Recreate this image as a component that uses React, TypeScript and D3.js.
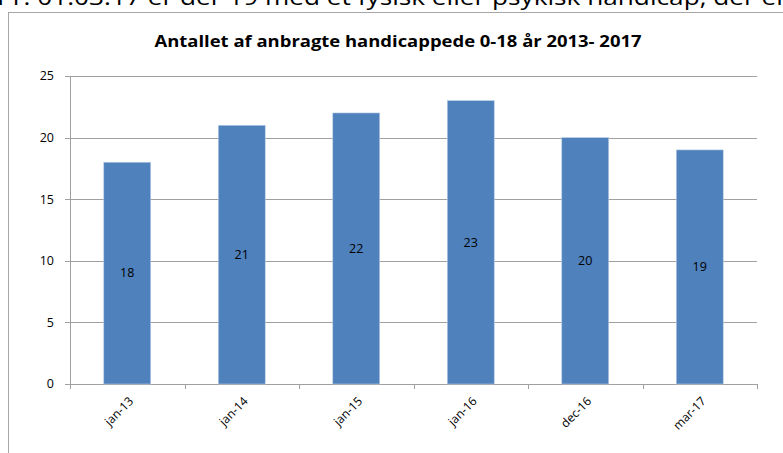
import * as d3 from 'd3';

const categories = ['jan-13', 'jan-14', 'jan-15', 'jan-16', 'dec-16', 'mar-17'];
const values = [18, 21, 22, 23, 20, 19];
const yTicks = [0, 5, 10, 15, 20, 25];

const W = 783;
const H = 453;
const plot = { left: 70, right: 757, top: 76, bottom: 384 };
const font = "'Open Sans', 'Noto Sans', sans-serif";

const App = () => {
  const x = d3
    .scaleBand()
    .domain(categories)
    .range([plot.left, plot.right])
    .paddingInner(0.59)
    .paddingOuter(0.295);

  // outer band used for tick marks between categories
  const xCat = d3.scaleBand().domain(categories).range([plot.left, plot.right]);

  const y = d3.scaleLinear().domain([0, 25]).range([plot.bottom, plot.top]);

  return (
    <svg
      width={W}
      height={H}
      style={{ position: 'absolute', left: 0, top: 0, background: '#fff' }}
    >
      {/* text from the page above the chart, cut off */}
      <text x={-3} y={5} fontFamily={font} fontSize={21} fill="#000" textLength={790} lengthAdjust="spacingAndGlyphs">
        Pr. 01.03.17 er der 19 med et fysisk eller psykisk handicap, der er
      </text>
      <rect x={8.5} y={12.5} width={W} height={H} fill="#fff" stroke="#a6a6a6" strokeWidth={1} />

      <text
        x={398}
        y={47}
        textAnchor="middle"
        fontFamily={font}
        fontWeight="bold"
        fontSize={16}
        textLength={487}
        lengthAdjust="spacingAndGlyphs"
        fill="#000"
      >
        Antallet af anbragte handicappede 0-18 år 2013- 2017
      </text>

      {/* gridlines and y labels */}
      {yTicks.map((t) => (
        <g key={t}>
          <line
            x1={plot.left - 5}
            x2={plot.right}
            y1={Math.round(y(t)) + 0.5}
            y2={Math.round(y(t)) + 0.5}
            stroke="#a0a0a0"
          />
          <text
            x={54}
            y={y(t)}
            dy="0.35em"
            textAnchor="end"
            fontFamily={font}
            fontSize={12.5}
            fill="#000"
          >
            {t}
          </text>
        </g>
      ))}
      <line x1={plot.left + 0.5} x2={plot.left + 0.5} y1={plot.top} y2={plot.bottom} stroke="#a0a0a0" />

      {/* tick marks at category borders */}
      {categories.concat(['end']).map((c, i) => {
        const xx = Math.round(plot.left + i * xCat.step()) + 0.5;
        return <line key={c} x1={xx} x2={xx} y1={plot.bottom} y2={plot.bottom + 5} stroke="#a0a0a0" />;
      })}

      {/* bars */}
      {values.map((v, i) => (
        <g key={categories[i]}>
          <rect
            x={x(categories[i])}
            y={y(v)}
            width={x.bandwidth()}
            height={y(0) - y(v)}
            fill="#4f81bd"
            stroke="#b9cde5"
            strokeWidth={0.6}
          />
          <text
            x={x(categories[i])! + x.bandwidth() / 2}
            y={(y(v) + y(0)) / 2}
            dy="0.35em"
            textAnchor="middle"
            fontFamily={font}
            fontSize={12.5}
            fill="#000"
          >
            {v}
          </text>
        </g>
      ))}

      {/* x labels */}
      {categories.map((c) => {
        const cx = xCat(c)! + xCat.bandwidth() / 2 + 4;
        const cy = plot.bottom + 15;
        return (
          <text
            key={c}
            x={cx}
            y={cy}
            transform={`rotate(-45, ${cx}, ${cy})`}
            textAnchor="end"
            dy="0.35em"
            fontFamily={font}
            fontSize={12}
            fill="#000"
          >
            {c}
          </text>
        );
      })}
    </svg>
  );
};

export default App;
